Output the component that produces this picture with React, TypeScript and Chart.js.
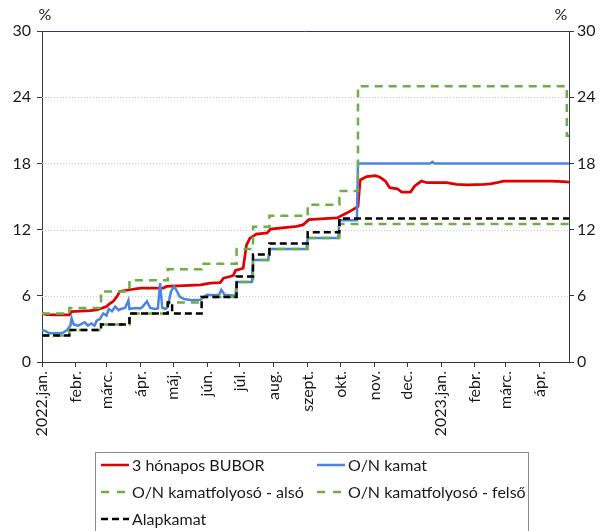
import React, { useEffect, useRef } from "react";
import { Chart, registerables } from "chart.js";

Chart.register(...registerables);

const START = Date.UTC(2022, 0, 1);
const dayOf = (s: string) => (Date.parse(s + "T00:00:00Z") - START) / 86400000;

const END_DATE = "2023-04-28";

const monthTickDates = [
  "2022-01-01", "2022-02-01", "2022-03-01", "2022-04-01", "2022-05-01", "2022-06-01",
  "2022-07-01", "2022-08-01", "2022-09-01", "2022-10-01", "2022-11-01", "2022-12-01",
  "2023-01-01", "2023-02-01", "2023-03-01", "2023-04-01",
];
const monthLabels = [
  "2022.jan.", "febr.", "márc.", "ápr.", "máj.", "jún.", "júl.", "aug.", "szept.",
  "okt.", "nov.", "dec.", "2023.jan.", "febr.", "márc.", "ápr.",
];
const yTicks = [0, 6, 12, 18, 24, 30];

// 3 hónapos BUBOR
const buborDates = [
  "2022-01-01", "2022-01-05", "2022-01-15", "2022-01-26", "2022-01-28", "2022-02-05",
  "2022-02-14", "2022-02-20", "2022-02-24", "2022-03-01", "2022-03-04", "2022-03-07",
  "2022-03-11", "2022-03-13", "2022-03-22", "2022-04-01", "2022-04-22", "2022-04-25",
  "2022-05-26", "2022-06-04", "2022-06-13", "2022-06-16", "2022-06-22", "2022-06-25",
  "2022-06-27", "2022-07-04", "2022-07-07", "2022-07-10", "2022-07-16", "2022-07-26",
  "2022-07-29", "2022-08-22", "2022-08-28", "2022-09-02", "2022-09-09", "2022-09-28",
  "2022-10-04", "2022-10-10", "2022-10-15", "2022-10-17", "2022-10-19", "2022-10-25",
  "2022-11-02", "2022-11-06", "2022-11-11", "2022-11-15", "2022-11-22", "2022-11-26",
  "2022-12-04", "2022-12-08", "2022-12-14", "2022-12-19", "2023-01-06", "2023-01-15",
  "2023-01-25", "2023-02-09", "2023-02-15", "2023-02-21", "2023-02-27", "2023-03-26",
  "2023-04-11", "2023-04-23", "2023-04-28",
];
const buborValues = [
  4.42, 4.3, 4.27, 4.27, 4.57, 4.6,
  4.65, 4.73, 4.85, 5.03, 5.3, 5.48,
  6.0, 6.4, 6.55, 6.7, 6.7, 6.85,
  7.0, 7.15, 7.2, 7.6, 7.75, 7.85,
  8.3, 8.5, 10.6, 11.2, 11.6, 11.7,
  12.05, 12.3, 12.45, 12.9, 12.95, 13.06,
  13.36, 13.67, 13.97, 14.1, 16.5, 16.8,
  16.9, 16.75, 16.4, 15.8, 15.7, 15.4,
  15.4, 15.95, 16.4, 16.25, 16.25, 16.1,
  16.05, 16.1, 16.15, 16.25, 16.4, 16.4,
  16.4, 16.35, 16.3,
];

// O/N kamat
const onDates = [
  "2022-01-01", "2022-01-05", "2022-01-08", "2022-01-16", "2022-01-20", "2022-01-24",
  "2022-01-27", "2022-01-28", "2022-01-30", "2022-02-03", "2022-02-07", "2022-02-09",
  "2022-02-12", "2022-02-15", "2022-02-18", "2022-02-20", "2022-02-23", "2022-02-26",
  "2022-03-01", "2022-03-03", "2022-03-06", "2022-03-09", "2022-03-12", "2022-03-14",
  "2022-03-18", "2022-03-21", "2022-03-22", "2022-03-27", "2022-04-01", "2022-04-03",
  "2022-04-07", "2022-04-10", "2022-04-14", "2022-04-17", "2022-04-19", "2022-04-21",
  "2022-04-24", "2022-04-26", "2022-04-29", "2022-05-02", "2022-05-05", "2022-05-07",
  "2022-05-11", "2022-05-18", "2022-05-26", "2022-05-29", "2022-06-01", "2022-06-08",
  "2022-06-12", "2022-06-14", "2022-06-17", "2022-06-22", "2022-06-27", "2022-06-28",
  "2022-07-12", "2022-07-13", "2022-07-27", "2022-07-28", "2022-08-31", "2022-09-01",
  "2022-09-29", "2022-09-30", "2022-10-16", "2022-10-17", "2022-12-22", "2022-12-24",
  "2022-12-26", "2023-04-28",
];
const onValues = [
  2.9, 2.75, 2.6, 2.6, 2.65, 2.9,
  3.3, 3.97, 3.4, 3.3, 3.5, 3.6,
  3.3, 3.5, 3.3, 3.75, 3.9, 4.4,
  4.2, 4.8, 4.6, 5.03, 4.7, 4.8,
  4.9, 5.6, 4.8, 4.9, 4.85, 5.0,
  5.5, 4.9, 4.8, 4.85, 7.15, 4.9,
  4.8, 5.0, 6.4, 6.85, 6.3, 5.9,
  5.7, 5.6, 5.65, 5.9, 6.1, 6.05,
  6.1, 6.55, 6.1, 6.05, 6.0, 7.25,
  7.25, 9.25, 9.25, 10.25, 10.25, 11.25,
  11.25, 12.85, 12.85, 18.0, 18.0, 18.15,
  18.0, 18.0,
];

// O/N kamatfolyosó - alsó (step changes)
const lowerDates = [
  "2022-01-01", "2022-01-26", "2022-02-24", "2022-03-22", "2022-04-26", "2022-05-27",
  "2022-06-28", "2022-07-13", "2022-07-28", "2022-09-01", "2022-09-30",
];
const lowerValues = [2.4, 2.9, 3.4, 4.4, 5.4, 5.9, 7.25, 9.25, 10.25, 11.25, 12.5];

// O/N kamatfolyosó - felső (step changes)
const upperDates = [
  "2022-01-01", "2022-01-26", "2022-02-24", "2022-03-22", "2022-04-26", "2022-05-27",
  "2022-06-28", "2022-07-13", "2022-07-28", "2022-09-01", "2022-09-30", "2022-10-17",
  "2023-04-26",
];
const upperValues = [4.4, 4.9, 6.4, 7.4, 8.4, 8.9, 10.25, 12.25, 13.25, 14.25, 15.5, 25, 20.5];

// Alapkamat (step changes)
const baseDates = [
  "2022-01-01", "2022-01-26", "2022-02-24", "2022-03-22", "2022-04-26", "2022-04-30",
  "2022-05-27", "2022-06-28", "2022-07-13", "2022-07-28", "2022-09-01", "2022-09-30",
];
const baseValues = [2.4, 2.9, 3.4, 4.4, 5.4, 4.4, 5.9, 7.75, 9.75, 10.75, 11.75, 13];

const toPoints = (dates: string[], values: number[]) =>
  dates.map((d, i) => ({ x: dayOf(d), y: values[i] }));
const toSteps = (dates: string[], values: number[]) => [
  ...toPoints(dates, values),
  { x: dayOf(END_DATE), y: values[values.length - 1] },
];

const FONT = "Lato";
const TEXT = "#1a1a1a";
const AXIS = "#333844";
const GREEN_DASH = [8, 6];
const BLACK_DASH = [7, 4];

const decorPlugin = {
  id: "decor",
  beforeDatasetsDraw(chart: any) {
    const { ctx, chartArea } = chart;
    const y = chart.scales.y;
    ctx.save();
    ctx.strokeStyle = "#c9c9c9";
    ctx.lineWidth = 1;
    ctx.setLineDash([1, 2]);
    for (const v of yTicks) {
      if (v === 0 || v === 30) continue;
      const py = Math.round(y.getPixelForValue(v)) + 0.5;
      ctx.beginPath();
      ctx.moveTo(chartArea.left, py);
      ctx.lineTo(chartArea.right, py);
      ctx.stroke();
    }
    ctx.setLineDash([]);
    ctx.strokeStyle = AXIS;
    const top = Math.round(y.getPixelForValue(30)) + 0.5;
    ctx.beginPath();
    ctx.moveTo(chartArea.left, top);
    ctx.lineTo(chartArea.right, top);
    ctx.stroke();
    ctx.restore();
  },
  afterDraw(chart: any) {
    const { ctx, chartArea } = chart;
    ctx.save();
    ctx.font = `16px ${FONT}`;
    ctx.fillStyle = TEXT;
    ctx.textBaseline = "middle";
    ctx.textAlign = "center";
    ctx.fillText("%", chartArea.left + 3, 15);
    ctx.fillText("%", chartArea.right - 8, 15);

    // legend
    ctx.strokeStyle = "#8a8a8a";
    ctx.lineWidth = 1;
    ctx.strokeRect(95.5, 452.5, 433, 100);
    const cols = [101, 317];
    const rows = [465, 492, 519];
    const ds = chart.data.datasets;
    ctx.textAlign = "left";
    ds.forEach((d: any, i: number) => {
      const cx = cols[i % 2];
      const cy = rows[Math.floor(i / 2)];
      ctx.save();
      ctx.strokeStyle = d.borderColor;
      ctx.lineWidth = 2.5;
      ctx.setLineDash(d.legendDash || []);
      ctx.beginPath();
      ctx.moveTo(cx, cy);
      ctx.lineTo(cx + 28, cy);
      ctx.stroke();
      ctx.restore();
      ctx.fillText(d.label, cx + 31, cy + 1);
    });
    ctx.restore();
  },
};

export default function App() {
  const ref = useRef<HTMLCanvasElement | null>(null);
  useEffect(() => {
    if (!ref.current) return;
    const tickFont = { family: FONT, size: 16 };
    const chart = new Chart(ref.current, {
      type: "line",
      data: {
        datasets: [
          {
            label: "3 hónapos BUBOR",
            data: toPoints(buborDates, buborValues),
            borderColor: "#e00000",
            borderWidth: 2.75,
            pointRadius: 0,
            order: 4,
          },
          {
            label: "O/N kamat",
            data: toPoints(onDates, onValues),
            borderColor: "#4a86e0",
            borderWidth: 2.5,
            pointRadius: 0,
            order: 3,
          },
          {
            label: "O/N kamatfolyosó - alsó",
            data: toSteps(lowerDates, lowerValues),
            borderColor: "#70ad47",
            borderWidth: 2.5,
            borderDash: GREEN_DASH,
            legendDash: [8, 8],
            stepped: "before",
            pointRadius: 0,
            order: 2,
          },
          {
            label: "O/N kamatfolyosó - felső",
            data: toSteps(upperDates, upperValues),
            borderColor: "#70ad47",
            borderWidth: 2.5,
            borderDash: GREEN_DASH,
            legendDash: [8, 8],
            stepped: "before",
            pointRadius: 0,
            order: 1,
          },
          {
            label: "Alapkamat",
            data: toSteps(baseDates, baseValues),
            borderColor: "#000000",
            borderWidth: 2.5,
            borderDash: BLACK_DASH,
            legendDash: [7, 4],
            stepped: "before",
            pointRadius: 0,
            order: 0,
          },
        ] as any,
      },
      options: {
        animation: false,
        responsive: false,
        maintainAspectRatio: false,
        layout: { padding: { top: 31, left: 0, right: 0, bottom: 0 } },
        plugins: { legend: { display: false }, tooltip: { enabled: false } },
        scales: {
          x: {
            type: "linear",
            min: 0,
            max: dayOf(END_DATE),
            afterBuildTicks: (s: any) => {
              s.ticks = monthTickDates.map((d) => ({ value: dayOf(d) }));
            },
            afterFit: (s: any) => {
              s.height = 169;
            },
            grid: { drawOnChartArea: false, drawTicks: true, tickLength: 5, color: AXIS },
            border: { color: AXIS, width: 1 },
            ticks: {
              autoSkip: false,
              minRotation: 90,
              maxRotation: 90,
              padding: 4,
              font: tickFont,
              color: TEXT,
              callback: (_v: any, i: number) => monthLabels[i],
            },
          },
          y: {
            position: "left",
            min: 0,
            max: 30,
            afterBuildTicks: (s: any) => {
              s.ticks = yTicks.map((v) => ({ value: v }));
            },
            afterFit: (s: any) => {
              s.width = 42;
            },
            grid: { drawOnChartArea: false, tickLength: 5, color: AXIS },
            border: { color: AXIS, width: 1 },
            ticks: { padding: 6, font: tickFont, color: TEXT },
          },
          y2: {
            position: "right",
            min: 0,
            max: 30,
            afterBuildTicks: (s: any) => {
              s.ticks = yTicks.map((v) => ({ value: v }));
            },
            afterFit: (s: any) => {
              s.width = 42;
            },
            grid: { drawOnChartArea: false, tickLength: 5, color: AXIS },
            border: { color: AXIS, width: 1 },
            ticks: { padding: 3, font: tickFont, color: TEXT },
          },
        },
      } as any,
      plugins: [decorPlugin],
    });
    return () => chart.destroy();
  }, []);

  return (
    <div style={{ position: "absolute", left: 0, top: 0, width: 611, height: 531, background: "#fff" }}>
      <canvas ref={ref} width={611} height={531} style={{ display: "block" }} />
    </div>
  );
}
